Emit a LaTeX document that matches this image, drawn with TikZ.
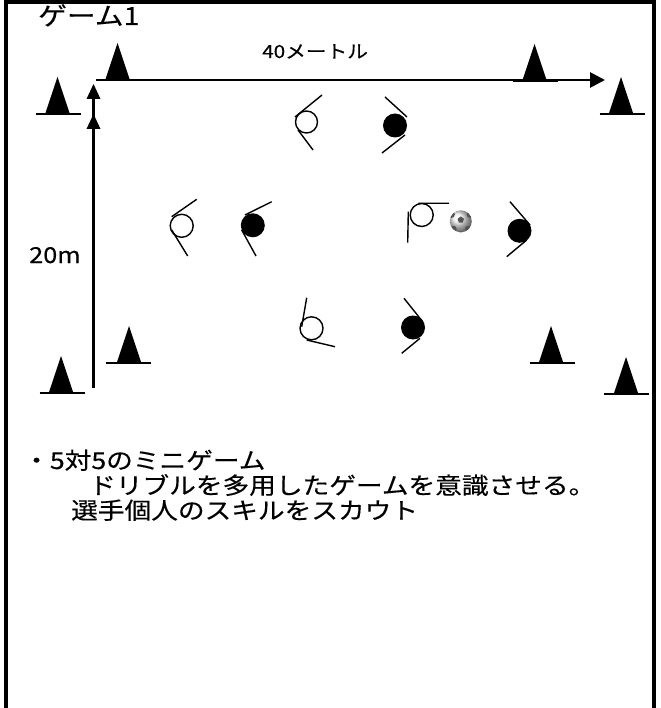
\documentclass[tikz,border=0pt]{standalone}
\usepackage{fontspec}
\usetikzlibrary{arrows.meta}
\newfontfamily\jp[FakeStretch=1.15,FakeBold=0.3]{Noto Sans CJK JP}

\tikzset{
  frameline/.style={line width=4pt},
  measure/.style={line width=2.8pt},
  conebody/.style={fill=black},
  conebase/.style={line width=2pt},
  plyr/.style={line width=1.4pt},
  label/.style={inner sep=0pt, font=\jp},
}

% cone: apex x, base y, base-line centre x
\newcommand\conemk[3]{%
  \fill[conebody] (#1,#2-36) -- (#1-12,#2) -- (#1+12,#2) -- cycle;
  \draw[conebase] (#3-22.5,#2+1.2) -- (#3+22.5,#2+1.2);
}

\begin{document}
\begin{tikzpicture}[x=1pt,y=-1pt]
\useasboundingbox (0,0) rectangle (660,708);
\fill[white] (0,0) rectangle (660,708);

% outer frame (open at the bottom)
\draw[frameline] (5.5,708) -- (5.5,2) -- (653.5,2) -- (653.5,708);

% title
\node[label, anchor=base west, font=\jp\fontsize{25}{28}\selectfont] (title) at (38,25) {ゲーム1};

% length along the top
\coordinate (hstart) at (97,80);
\coordinate (hend) at (605,80);
\draw[measure, -{Triangle[length=15pt,width=15pt]}] (hstart) -- (hend);
\node[label, anchor=base west, font=\jp\fontsize{18}{20}\selectfont] (len40) at (262,58) {40メートル};

% width on the left, double arrowhead at the top
\coordinate (vbot) at (93.5,388);
\coordinate (vtop) at (93.5,99);
\draw[measure] (vbot) -- (vtop);
\fill (93.5,84) -- (86.5,99) -- (100.5,99) -- cycle;
\fill (93.5,114) -- (86.5,129) -- (100.5,129) -- cycle;
\node[label, anchor=base west, font=\jp\fontsize{22}{24}\selectfont] (w20) at (29,263) {20m};

% cones
\conemk{117.5}{79}{118.5}
\conemk{57.5}{113}{58.5}
\conemk{534.5}{80}{535.5}
\conemk{621}{113}{622}
\conemk{61}{392}{62}
\conemk{129}{362}{128}
\conemk{551}{362}{552}
\conemk{626}{393}{626}

% white players
\draw[plyr] (306.5,122) circle (11);
\draw[plyr] (295,117) -- (322,95) (298,130) -- (313,150);

\draw[plyr] (181.7,225.8) circle (11.5);
\draw[plyr] (171.7,216.7) -- (196.7,199.3) (171.7,230) -- (187.7,256);

\draw[plyr] (421.7,215) circle (11.5);
\draw[plyr] (418.3,203.3) -- (449,203.3) (408.3,211.7) -- (407.7,242.7);

\draw[plyr] (311.5,328.3) circle (11.5);
\draw[plyr] (306.7,297.7) -- (301.7,326.7) (306.7,340) -- (335,346.7);

% black players
\fill (395,125.5) circle (12);
\draw[plyr] (385,97) -- (407,117) (405,135) -- (382,153);

\fill (252.8,225.3) circle (12);
\draw[plyr] (245,215) -- (271.7,201.7) (241.7,230) -- (256,256);

\fill (519.5,230.8) circle (12);
\draw[plyr] (510,201.7) -- (530,225) (526.7,240) -- (506.7,256.7);

\fill (413,327.5) circle (12);
\draw[plyr] (404,298.3) -- (422.7,321.7) (420,338.3) -- (401.7,353.3);

% ball
\begin{scope}
  \shade[ball color=gray!15] (460.8,221.3) circle (11);
  \clip (460.8,221.3) circle (11);
  \fill[gray!65!black] (460.8,216.5) -- ++(3.2,2.3) -- ++(-1.2,3.8) -- ++(-4,0) -- ++(-1.2,-3.8) -- cycle;
  \fill[gray!65!black] (451.5,214.5) circle (3.4);
  \fill[gray!65!black] (470,214.5) circle (3.4);
  \fill[gray!65!black] (453.5,229) circle (3.2);
  \fill[gray!65!black] (468,229) circle (3.2);
  \fill[gray!65!black] (460.8,234) circle (2.6);
\end{scope}

% notes
\node[label, anchor=base west, font=\jp\fontsize{23.2}{25}\selectfont] (note1) at (23,469) {・5対5のミニゲーム};
\node[label, anchor=base west, font=\jp\fontsize{23.2}{25}\selectfont] (note2) at (89,494) {ドリブルを多用したゲームを意識させる。};
\node[label, anchor=base west, font=\jp\fontsize{23.2}{25}\selectfont] (note3) at (71,519) {選手個人のスキルをスカウト};
\end{tikzpicture}
\end{document}
